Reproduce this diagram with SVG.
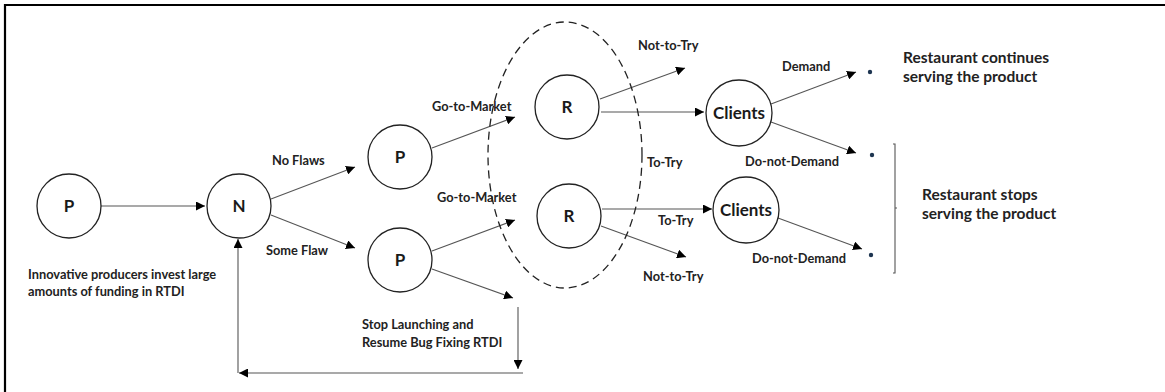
<svg xmlns="http://www.w3.org/2000/svg" width="1165" height="392" viewBox="0 0 1165 392">
<style>
  .node { fill: #fff; stroke: #222; stroke-width: 1.3; }
  .nl { font-family: Lato, "Liberation Sans", sans-serif; font-weight: bold; font-size: 17px; fill: #1a1a1a; text-anchor: middle; }
  .lbl { font-family: Lato, "Liberation Sans", sans-serif; font-weight: bold; font-size: 12.8px; fill: #222; }
  .big { font-family: Lato, "Liberation Sans", sans-serif; font-weight: bold; font-size: 15.5px; fill: #222; }
  .edge { stroke: #555; stroke-width: 1.1; fill: none; marker-end: url(#ah); }
  .line { stroke: #555; stroke-width: 1.1; fill: none; }
  .dot { fill: #1d3550; }
</style>
<defs>
  <marker id="ah" viewBox="0 0 10 10" refX="10" refY="5" markerWidth="9" markerHeight="9" markerUnits="userSpaceOnUse" orient="auto">
    <path d="M0,0 L10,5 L0,10 Z" fill="#000"/>
  </marker>
</defs>
<rect width="1165" height="392" fill="#fff"/>
<path d="M5,392 V5 H1165" fill="none" stroke="#000" stroke-width="2.2"/>

<g id="connectors">
  <line class="edge" x1="101" y1="206" x2="205" y2="206"/>
  <line class="edge" x1="271" y1="199" x2="355" y2="167"/>
  <line class="edge" x1="271" y1="215" x2="355" y2="248"/>
  <line class="edge" x1="432" y1="148" x2="515" y2="117"/>
  <line class="edge" x1="432" y1="251" x2="515" y2="220"/>
  <line class="edge" x1="432" y1="269" x2="513" y2="298"/>
  <line class="edge" x1="518" y1="307" x2="518" y2="369"/>
  <line class="edge" x1="523" y1="373" x2="239" y2="373"/>
  <line class="edge" x1="238" y1="373" x2="238" y2="239"/>
  <line class="edge" x1="600" y1="99" x2="685" y2="68"/>
  <line class="edge" x1="601" y1="112" x2="704" y2="112"/>
  <line class="edge" x1="602" y1="209" x2="712" y2="209"/>
  <line class="edge" x1="601" y1="226" x2="686" y2="257"/>
  <line class="edge" x1="771" y1="104" x2="856" y2="72"/>
  <line class="edge" x1="771" y1="122" x2="856" y2="153"/>
  <line class="edge" x1="778" y1="218" x2="862" y2="249"/>
  <path class="line" d="M893,144 H895 V273 H893 M895,208 H897"/>
</g>

<ellipse id="cluster" cx="565" cy="155" rx="77" ry="133" fill="none" stroke="#222" stroke-width="1.3" stroke-dasharray="8,5"/>

<g id="p0"><circle class="node" cx="69" cy="206" r="32"/><text class="nl" x="69" y="212">P</text></g>
<g id="n"><circle class="node" cx="239" cy="206" r="32"/><text class="nl" x="239" y="212">N</text></g>
<g id="p1"><circle class="node" cx="400" cy="157" r="32"/><text class="nl" x="400" y="163">P</text></g>
<g id="p2"><circle class="node" cx="400" cy="260" r="32"/><text class="nl" x="400" y="266">P</text></g>
<g id="r1"><circle class="node" cx="567" cy="107" r="32"/><text class="nl" x="567" y="113">R</text></g>
<g id="r2"><circle class="node" cx="569" cy="216" r="32"/><text class="nl" x="569" y="222">R</text></g>
<g id="c1"><circle class="node" cx="739" cy="113" r="33"/><text class="nl" x="739" y="119" font-size="16.5">Clients</text></g>
<g id="c2"><circle class="node" cx="746" cy="210" r="33"/><text class="nl" x="746" y="216" font-size="16.5">Clients</text></g>
<g id="end1"><circle class="dot" cx="870" cy="72" r="2.2"/></g>
<g id="end2"><circle class="dot" cx="872" cy="155" r="2.2"/></g>
<g id="end3"><circle class="dot" cx="871" cy="255" r="2.2"/></g>

<g id="labels">
  <text class="lbl" x="272" y="165">No Flaws</text>
  <text class="lbl" x="266" y="255">Some Flaw</text>
  <text class="lbl" x="432" y="111">Go-to-Market</text>
  <text class="lbl" x="437" y="202">Go-to-Market</text>
  <text class="lbl" x="638" y="50">Not-to-Try</text>
  <text class="lbl" x="647" y="167">To-Try</text>
  <text class="lbl" x="658" y="225">To-Try</text>
  <text class="lbl" x="643" y="281">Not-to-Try</text>
  <text class="lbl" x="782" y="71">Demand</text>
  <text class="lbl" x="745" y="166">Do-not-Demand</text>
  <text class="lbl" x="752" y="263">Do-not-Demand</text>
  <text class="lbl" x="28" y="279">Innovative producers invest large</text>
  <text class="lbl" x="28" y="296">amounts of funding in RTDI</text>
  <text class="lbl" x="362" y="329">Stop Launching and</text>
  <text class="lbl" x="362" y="347">Resume Bug Fixing RTDI</text>
  <text class="big" x="903" y="63">Restaurant continues</text>
  <text class="big" x="903" y="82">serving the product</text>
  <text class="big" x="922" y="200">Restaurant stops</text>
  <text class="big" x="922" y="219">serving the product</text>
</g>
</svg>
